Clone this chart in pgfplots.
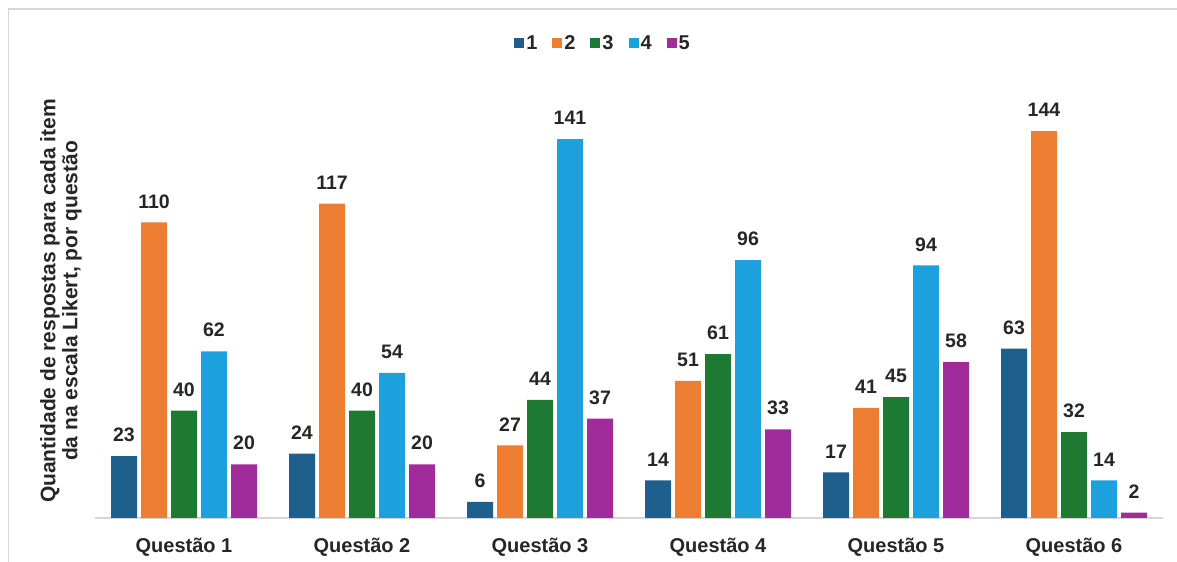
\documentclass[border=0pt]{standalone}
\usepackage{pgfplots}
\pgfplotsset{compat=1.18}
\usepackage{fontspec}
\setmainfont{Liberation Sans}

\definecolor{cUm}{HTML}{1F5F8B}
\definecolor{cDois}{HTML}{ED7D31}
\definecolor{cTres}{HTML}{1E7A32}
\definecolor{cQuatro}{HTML}{1DA1DD}
\definecolor{cCinco}{HTML}{A02C9C}
\definecolor{txt}{HTML}{262626}
\definecolor{frame}{HTML}{D6D6D6}

\begin{document}
\begin{tikzpicture}[x=1bp,y=1bp]
\path[use as bounding box] (0,0) rectangle (1177,562);
% outer chart frame
\draw[frame, line width=1.5bp] (8.5,0) -- (8.5,553) -- (1177,553);

\begin{axis}[
  at={(95bp,44bp)}, anchor=south west,
  scale only axis,
  width=1068bp, height=438bp,
  xmin=-0.5, xmax=5.5,
  ymin=0, ymax=163,
  ybar=4bp, bar width=26bp,
  axis x line=bottom, axis y line=none,
  axis line style={frame, line width=1.2bp, -},
  xtick={0,1,2,3,4,5},
  xticklabels={Questão 1,Questão 2,Questão 3,Questão 4,Questão 5,Questão 6},
  major tick length=0pt,
  xticklabel style={font=\fontsize{20bp}{22bp}\selectfont\bfseries, text=txt, yshift=-17bp},
  /pgf/number format/assume math mode=true,
  nodes near coords,
  nodes near coords style={font=\fontsize{19.5bp}{22bp}\selectfont\bfseries, text=txt, inner sep=0pt, yshift=14bp, anchor=south},
  legend columns=5,
  legend style={at={(0.4757,1.0845)}, anchor=center, draw=none, fill=none,
    font=\fontsize{20bp}{22bp}\selectfont\bfseries, text=txt,
    /tikz/every even column/.append style={column sep=13bp}},
  legend image code/.code={\fill[#1] (0bp,-5bp) rectangle (10bp,5bp);},
]
\addplot[fill=cUm, draw=none] coordinates {(0,23) (1,24) (2,6) (3,14) (4,17) (5,63)};
\addplot[fill=cDois, draw=none] coordinates {(0,110) (1,117) (2,27) (3,51) (4,41) (5,144)};
\addplot[fill=cTres, draw=none] coordinates {(0,40) (1,40) (2,44) (3,61) (4,45) (5,32)};
\addplot[fill=cQuatro, draw=none] coordinates {(0,62) (1,54) (2,141) (3,96) (4,94) (5,14)};
\addplot[fill=cCinco, draw=none] coordinates {(0,20) (1,20) (2,37) (3,33) (4,58) (5,2)};
\legend{1,2,3,4,5}
\end{axis}

\node[rotate=90, align=center, text=txt, font=\fontsize{21bp}{22bp}\selectfont\bfseries]
  at (61,261) {Quantidade de respostas para cada item\\da na escala Likert, por questão};
\end{tikzpicture}
\end{document}
